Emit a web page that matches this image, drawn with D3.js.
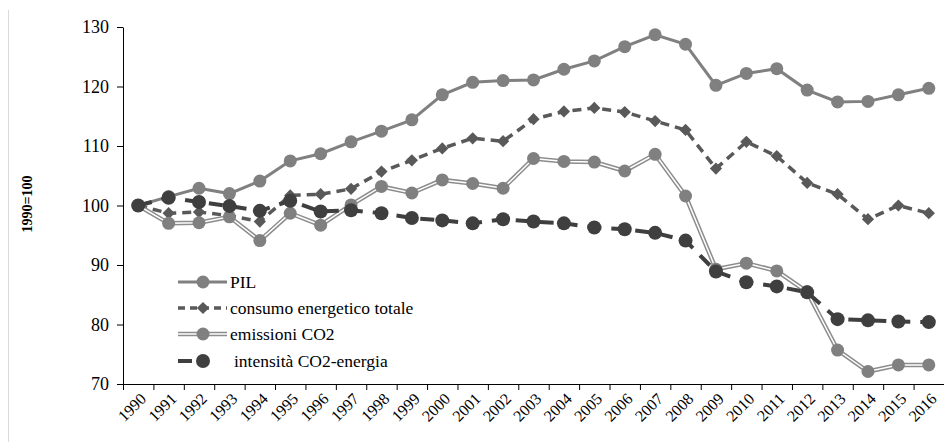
<!DOCTYPE html>
<html><head><meta charset="utf-8">
<script src="https://cdn.jsdelivr.net/npm/d3@7"></script>
<style>body{margin:0;background:#fff}svg{display:block}text{font-family:"Liberation Serif","Times New Roman",serif}</style>
</head><body><svg id="c" width="944" height="442"></svg>
<script>
const years = [1990,1991,1992,1993,1994,1995,1996,1997,1998,1999,2000,2001,2002,2003,2004,2005,2006,2007,2008,2009,2010,2011,2012,2013,2014,2015,2016];
const pil = [100,101.5,102.9,102.0,104.1,107.5,108.7,110.7,112.5,114.4,118.6,120.7,121.0,121.1,122.9,124.3,126.7,128.7,127.1,120.2,122.2,123.0,119.4,117.4,117.5,118.6,119.7];
const consumo = [100,98.7,98.9,98.3,97.3,101.7,101.9,102.8,105.7,107.6,109.6,111.3,110.8,114.5,115.8,116.4,115.7,114.2,112.7,106.2,110.7,108.3,103.8,101.9,97.7,100.0,98.7];
const emissioni = [100,97.0,97.1,98.1,94.1,98.7,96.7,100.1,103.2,102.1,104.3,103.7,102.9,107.9,107.4,107.3,105.8,108.6,101.6,89.3,90.3,89.0,85.5,75.7,72.1,73.2,73.2];
const intensita = [100,101.3,100.6,99.9,99.1,100.8,99.0,99.2,98.7,97.9,97.5,97.0,97.7,97.3,97.0,96.3,96.0,95.4,94.1,88.9,87.1,86.4,85.4,80.9,80.7,80.5,80.4];
const yTicks = [70,80,90,100,110,120,130];
const seriesNames = ["PIL","consumo energetico totale","emissioni CO2","intensità CO2-energia"];
const yLabel = "1990=100";

const svg = d3.select("#c");
const mLeft = 123, mRight = 944, mTop = 27, mBottom = 384;
const x = d3.scaleBand().domain(years).range([mLeft, mRight]).padding(0);
const xb = d3.scaleLinear().domain([0, years.length]).range([mLeft, mRight]);
const y = d3.scaleLinear().domain([70,130]).range([mBottom, mTop]);
const cx = d => x(d) + x.bandwidth()/2;

svg.append("line").attr("x1",8.5).attr("x2",8.5).attr("y1",10).attr("y2",442).attr("stroke","#d9d9d9");

const ya = svg.append("g").attr("transform",`translate(${mLeft},0)`)
  .call(d3.axisLeft(y).tickValues(yTicks).tickSize(6).tickSizeOuter(0).tickPadding(8));
ya.select(".domain").attr("stroke","#000");
ya.selectAll(".tick line").attr("stroke","#000");
ya.selectAll("text").attr("font-size",18).attr("fill","#000").attr("font-family","Liberation Serif");

const xa = svg.append("g").attr("transform",`translate(0,${mBottom})`)
  .call(d3.axisBottom(xb).tickValues(d3.range(0, years.length+1)).tickFormat("").tickSize(6).tickSizeOuter(0));
xa.select(".domain").attr("stroke","#000");
xa.selectAll(".tick line").attr("stroke","#000");
svg.append("g").selectAll("text").data(years).join("text")
  .attr("transform", d => `translate(${cx(d)+5},${mBottom+12}) rotate(-45)`)
  .attr("text-anchor","end").attr("dy","0.35em")
  .attr("font-size",16).text(d => d);

svg.append("text").attr("transform","translate(32,204) rotate(-90)")
  .attr("text-anchor","middle").attr("font-size",14).attr("font-weight","bold").text(yLabel);

const line = d3.line().x((d,i)=>cx(years[i])).y(d=>y(d));

svg.append("path").datum(pil).attr("d",line).attr("fill","none").attr("stroke","#808080").attr("stroke-width",3);
svg.append("g").selectAll("circle").data(pil).join("circle")
  .attr("cx",(d,i)=>cx(years[i])).attr("cy",d=>y(d)).attr("r",6.5).attr("fill","#808080");

svg.append("path").datum(consumo).attr("d",line).attr("fill","none").attr("stroke","#595959").attr("stroke-width",3.5).attr("stroke-dasharray","9,6");
svg.append("g").selectAll("path").data(consumo).join("path")
  .attr("d",d3.symbol().type(d3.symbolSquare).size(75)).attr("fill","#595959")
  .attr("transform",(d,i)=>`translate(${cx(years[i])},${y(d)}) rotate(45)`);

svg.append("path").datum(emissioni).attr("d",line).attr("fill","none").attr("stroke","#8c8c8c").attr("stroke-width",4.5);
svg.append("path").datum(emissioni).attr("d",line).attr("fill","none").attr("stroke","#ffffff").attr("stroke-width",1.5);
svg.append("g").selectAll("circle").data(emissioni).join("circle")
  .attr("cx",(d,i)=>cx(years[i])).attr("cy",d=>y(d)).attr("r",6.5).attr("fill","#808080");

svg.append("path").datum(intensita).attr("d",line).attr("fill","none").attr("stroke","#3f3f3f").attr("stroke-width",4).attr("stroke-dasharray","14,10");
svg.append("g").selectAll("circle").data(intensita).join("circle")
  .attr("cx",(d,i)=>cx(years[i])).attr("cy",d=>y(d)).attr("r",7).attr("fill","#3f3f3f");

const lg = svg.append("g");
const ly = [282, 308, 334, 361];
const lx0 = 178, lx1 = 227, lmid = 203;
lg.append("line").attr("x1",lx0).attr("x2",lx1).attr("y1",ly[0]).attr("y2",ly[0]).attr("stroke","#808080").attr("stroke-width",3);
lg.append("circle").attr("cx",lmid).attr("cy",ly[0]).attr("r",6.5).attr("fill","#808080");
lg.append("line").attr("x1",lx0).attr("x2",lx1).attr("y1",ly[1]).attr("y2",ly[1]).attr("stroke","#595959").attr("stroke-width",3.5).attr("stroke-dasharray","7,5");
lg.append("path").attr("d",d3.symbol().type(d3.symbolSquare).size(75)).attr("fill","#595959")
  .attr("transform",`translate(${lmid},${ly[1]}) rotate(45)`);
lg.append("line").attr("x1",lx0).attr("x2",lx1).attr("y1",ly[2]).attr("y2",ly[2]).attr("stroke","#8c8c8c").attr("stroke-width",4.5);
lg.append("line").attr("x1",lx0).attr("x2",lx1).attr("y1",ly[2]).attr("y2",ly[2]).attr("stroke","#fff").attr("stroke-width",1.5);
lg.append("circle").attr("cx",lmid).attr("cy",ly[2]).attr("r",6.5).attr("fill","#808080");
lg.append("line").attr("x1",lx0).attr("x2",lx0+14).attr("y1",ly[3]).attr("y2",ly[3]).attr("stroke","#3f3f3f").attr("stroke-width",4);
lg.append("circle").attr("cx",lmid).attr("cy",ly[3]).attr("r",7).attr("fill","#3f3f3f");
lg.selectAll("text").data(seriesNames).join("text")
  .attr("x",(d,i)=> i===3 ? 234 : 230).attr("y",(d,i)=>ly[i]).attr("dy","0.35em")
  .attr("font-size",17.5).attr("fill","#000").text(d=>d);
</script></body></html>
